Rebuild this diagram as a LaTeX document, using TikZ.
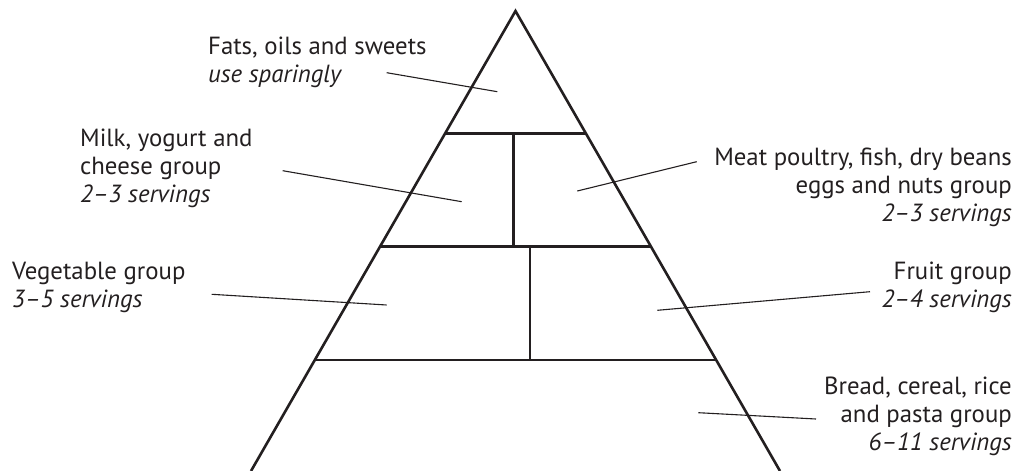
\documentclass[tikz,border=0pt]{standalone}
\usepackage{fontspec}
\setmainfont{PT Sans}
\usepackage{tikz}
\usetikzlibrary{calc}
\definecolor{ink}{HTML}{231F20}
\newcommand{\labelfont}{\fontsize{24.8}{28}\selectfont}
\tikzset{
  every node/.style={font=\labelfont,text=ink,inner sep=0pt},
  lab/.style={align=left,anchor=base west},
  labr/.style={align=right,anchor=base east},
  wall/.style={line width=2.6pt,draw=ink},
  leader/.style={line width=1.1pt,draw=ink},
}

\begin{document}
\begin{tikzpicture}[x=1pt,y=-1pt]
  \useasboundingbox (0,0) rectangle (1021,471);
  % ---------- pyramid ----------
  \coordinate (apex) at (515.5,11);
  \coordinate (bl) at (251,471);
  \coordinate (br) at (780,471);
  \draw[wall,line join=miter] (bl) -- (apex) -- (br);
  \foreach \lvl/\y in {one/133.3,two/246.7,three/360} {
    \coordinate (\lvl-l) at ($(apex)!{(\y-11)/460}!(bl)$);
    \coordinate (\lvl-r) at ($(apex)!{(\y-11)/460}!(br)$);
    \draw[wall] (\lvl-l) -- (\lvl-r);
  }
  \draw[wall] (513.3,133.3) -- (513.3,246.7);
  \draw[wall] (530,246.7) -- (530,360);

  % ---------- labels (anchored on the last line) ----------
  \node[lab] (fats) at (208,82) {Fats, oils and sweets\\\textit{use sparingly}};
  \node[lab] (milk) at (80,202) {Milk, yogurt and\\cheese group\\\textit{2–3 servings}};
  \node[lab] (veg) at (12,307) {Vegetable group\\\textit{3–5 servings}};
  \node[labr] (meat) at (1012,221) {Meat poultry, fish, dry beans\\eggs and nuts group\\\textit{2–3 servings}};
  \node[labr] (fruit) at (1012,307) {Fruit group\\\textit{2–4 servings}};
  \node[labr] (bread) at (1012,450) {Bread, cereal, rice\\and pasta group\\\textit{6–11 servings}};

  % ---------- leaders ----------
  \coordinate (fats-a) at (386.7,72.7);   \coordinate (fats-b) at (497.3,91.7);
  \coordinate (milk-a) at (282.7,170.7);  \coordinate (milk-b) at (461.7,201.7);
  \coordinate (veg-a) at (211.7,294.3);   \coordinate (veg-b) at (386.7,305);
  \coordinate (meat-a) at (696.7,161.7);  \coordinate (meat-b) at (577.3,191);
  \coordinate (fruit-a) at (870,291.7);   \coordinate (fruit-b) at (657.3,310.3);
  \coordinate (bread-a) at (816,419);     \coordinate (bread-b) at (698.3,412.7);
  \foreach \g in {fats,milk,veg,meat,fruit,bread}
    \draw[leader] (\g-a) -- (\g-b);
\end{tikzpicture}
\end{document}
